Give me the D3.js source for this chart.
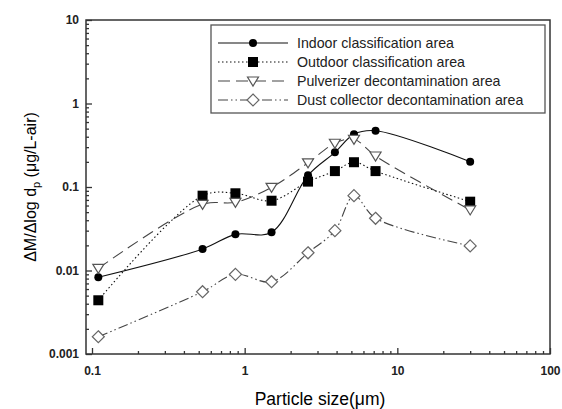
<!DOCTYPE html>
<html>
<head>
<meta charset="utf-8">
<script src="https://cdn.jsdelivr.net/npm/d3@7"></script>
<style>
  body { margin: 0; background: #fff; }
  svg { font-family: Arial, "Liberation Sans", sans-serif; }
</style>
</head>
<body>
<div id="chart"></div>
<script>
// particle size midpoints (um)
const sizes = [0.11, 0.53, 0.87, 1.5, 2.6, 3.9, 5.2, 7.2, 30];

// series values (ug/L-air)
const indoor = [0.0083, 0.0181, 0.0271, 0.0287, 0.138, 0.26, 0.428, 0.472, 0.201];
const outdoor = [0.0044, 0.0787, 0.0841, 0.0685, 0.116, 0.155, 0.198, 0.155, 0.0667];
const pulverizer = [0.0106, 0.0621, 0.0656, 0.0991, 0.195, 0.334, 0.373, 0.235, 0.0531];
const dustCollector = [0.00161, 0.00557, 0.009, 0.00734, 0.0163, 0.03, 0.0787, 0.0422, 0.0197];

const seriesNames = ['Indoor classification area', 'Outdoor classification area',
  'Pulverizer decontamination area', 'Dust collector decontamination area'];

const width = 562, height = 409;
const plotLeft = 86, plotRight = 550, plotTop = 20, plotBottom = 354;

const svg = d3.select('#chart').append('svg')
  .attr('width', width)
  .attr('height', height);

const x = d3.scaleLog().domain([0.1, 100]).range([92, 550]);
const y = d3.scaleLog().domain([0.001, 10]).range([plotBottom, plotTop]);

// minor tick values for log axes
function logTicks(lo, hi) {
  const out = [];
  for (let e = Math.round(Math.log10(lo)); e < Math.round(Math.log10(hi)); e++) {
    for (let k = 1; k < 10; k++) out.push(k * Math.pow(10, e));
  }
  out.push(hi);
  return out;
}
const isMajor = v => Math.abs(Math.log10(v) - Math.round(Math.log10(v))) < 1e-9;

// frame
svg.append('rect')
  .attr('x', plotLeft).attr('y', plotTop)
  .attr('width', plotRight - plotLeft).attr('height', plotBottom - plotTop)
  .attr('fill', 'none').attr('stroke', '#333').attr('stroke-width', 1.5);

// x axis
const xAxis = svg.append('g')
  .attr('transform', `translate(0,${plotBottom})`)
  .call(d3.axisBottom(x).tickValues(logTicks(0.1, 100))
    .tickSizeOuter(0)
    .tickFormat(d => isMajor(d) ? d3.format('~g')(d) : ''));
xAxis.select('.domain').remove();
xAxis.selectAll('.tick line')
  .attr('y2', d => isMajor(d) ? -6 : -3)
  .attr('stroke', '#333').attr('stroke-width', 1.3);
xAxis.selectAll('.tick text')
  .attr('y', 12)
  .attr('font-size', 12).attr('font-weight', 'bold').attr('fill', '#222');

// y axis
const yAxis = svg.append('g')
  .attr('transform', `translate(${plotLeft},0)`)
  .call(d3.axisLeft(y).tickValues(logTicks(0.001, 10))
    .tickSizeOuter(0)
    .tickFormat(d => isMajor(d) ? d3.format('~g')(d) : ''));
yAxis.select('.domain').remove();
yAxis.selectAll('.tick line')
  .attr('x2', d => isMajor(d) ? 6 : 3)
  .attr('stroke', '#333').attr('stroke-width', 1.3);
yAxis.selectAll('.tick text')
  .attr('x', -7)
  .attr('font-size', 12).attr('font-weight', 'bold').attr('fill', '#222');

// axis titles
svg.append('text')
  .attr('x', 320).attr('y', 405)
  .attr('text-anchor', 'middle')
  .attr('font-size', 17.5)
  .text('Particle size(\u03bcm)');

const yTitle = svg.append('text')
  .attr('transform', 'translate(36,187) rotate(-90)')
  .attr('text-anchor', 'middle')
  .attr('font-size', 16);
yTitle.append('tspan').text('\u0394M/\u0394log d');
yTitle.append('tspan').attr('font-size', 11).attr('dy', 4).text('p');
yTitle.append('tspan').attr('dy', -4).text(' (\u03bcg/L-air)');

// series styles
const styles = [
  { values: indoor, stroke: '#111', dash: null, marker: 'circle' },
  { values: outdoor, stroke: '#111', dash: '1.5,2.5', marker: 'square' },
  { values: pulverizer, stroke: '#444', dash: '12,6', marker: 'triangle' },
  { values: dustCollector, stroke: '#444', dash: '10,3,1.5,3,1.5,3', marker: 'diamond' }
];

function drawMarker(g, type, cx, cy) {
  if (type === 'circle') {
    g.append('circle').attr('cx', cx).attr('cy', cy).attr('r', 4).attr('fill', '#000');
  } else if (type === 'square') {
    g.append('rect').attr('x', cx - 5).attr('y', cy - 5)
      .attr('width', 10).attr('height', 10).attr('fill', '#000');
  } else if (type === 'triangle') {
    g.append('path')
      .attr('d', `M${cx - 5.5},${cy - 4}L${cx + 5.5},${cy - 4}L${cx},${cy + 5}Z`)
      .attr('fill', '#fff').attr('stroke', '#555').attr('stroke-width', 1.2);
  } else {
    g.append('path')
      .attr('d', `M${cx},${cy - 6}L${cx + 6},${cy}L${cx},${cy + 6}L${cx - 6},${cy}Z`)
      .attr('fill', '#fff').attr('stroke', '#666').attr('stroke-width', 1.2);
  }
}

const line = d3.line()
  .x(d => x(d[0]))
  .y(d => y(d[1]))
  .curve(d3.curveCatmullRom.alpha(0.5));

styles.forEach(s => {
  const pts = sizes.map((v, i) => [v, s.values[i]]);
  svg.append('path')
    .attr('d', line(pts))
    .attr('fill', 'none')
    .attr('stroke', s.stroke)
    .attr('stroke-width', 1.1)
    .attr('stroke-dasharray', s.dash);
});

styles.forEach(s => {
  const g = svg.append('g');
  sizes.forEach((v, i) => drawMarker(g, s.marker, x(v), y(s.values[i])));
});

// legend
const legend = svg.append('g');
legend.append('rect')
  .attr('x', 211).attr('y', 25)
  .attr('width', 334).attr('height', 88)
  .attr('fill', '#fff').attr('stroke', '#555').attr('stroke-width', 1.3);

const rowY = [43, 62, 81, 100];
styles.forEach((s, i) => {
  const ly = rowY[i];
  legend.append('line')
    .attr('x1', 218).attr('x2', 288)
    .attr('y1', ly).attr('y2', ly)
    .attr('stroke', s.stroke).attr('stroke-width', 1.1)
    .attr('stroke-dasharray', s.dash);
  drawMarker(legend, s.marker, 253, ly);
  legend.append('text')
    .attr('x', 297).attr('y', ly + 5)
    .attr('font-size', 14.2)
    .attr('fill', '#222')
    .text(seriesNames[i]);
});
</script>
</body>
</html>
